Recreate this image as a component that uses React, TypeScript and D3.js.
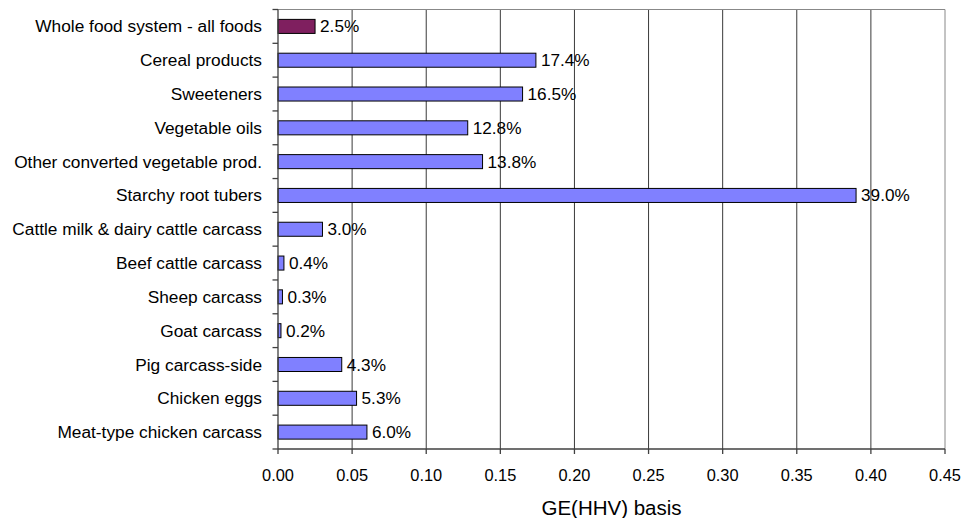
import * as d3 from "d3";

const categories = [
  "Whole food system - all foods",
  "Cereal products",
  "Sweeteners",
  "Vegetable oils",
  "Other converted vegetable prod.",
  "Starchy root tubers",
  "Cattle milk & dairy cattle carcass",
  "Beef cattle carcass",
  "Sheep carcass",
  "Goat carcass",
  "Pig carcass-side",
  "Chicken eggs",
  "Meat-type chicken carcass",
];
const values = [0.025, 0.174, 0.165, 0.128, 0.138, 0.39, 0.03, 0.004, 0.003, 0.002, 0.043, 0.053, 0.06];
const valueLabels = ["2.5%", "17.4%", "16.5%", "12.8%", "13.8%", "39.0%", "3.0%", "0.4%", "0.3%", "0.2%", "4.3%", "5.3%", "6.0%"];
const xTicks = [0, 0.05, 0.1, 0.15, 0.2, 0.25, 0.3, 0.35, 0.4, 0.45];

const W = 964;
const H = 518;
const margin = { top: 9.5, right: 19, bottom: 69, left: 278 };
const FONT = "'Liberation Sans', Arial, sans-serif";

export default function App() {
  const x = d3.scaleLinear().domain([0, 0.45]).range([margin.left, W - margin.right]);
  const y = d3
    .scaleBand<string>()
    .domain(categories)
    .range([margin.top, H - margin.bottom])
    .paddingInner(0.585)
    .paddingOuter(0.2925);
  const step = y.step();
  const y0 = margin.top;
  const y1 = H - margin.bottom;
  const x0 = x(0);
  const x1 = x(0.45);

  return (
    <svg width={W} height={H} style={{ position: "absolute", left: 0, top: 0, background: "#fff" }}>
      {/* gridlines */}
      {xTicks.slice(1, -1).map((t) => (
        <line key={"g" + t} x1={x(t)} x2={x(t)} y1={y0} y2={y1} stroke="#3a3a3a" strokeWidth={1} />
      ))}
      {/* plot border top/right */}
      <line x1={x0} x2={x1} y1={y0} y2={y0} stroke="#888" />
      <line x1={x1} x2={x1} y1={y0} y2={y1} stroke="#888" />

      {/* bars */}
      {categories.map((c, i) => (
        <g key={c}>
          <rect
            x={x(0)}
            y={y(c)}
            width={x(values[i]) - x(0)}
            height={y.bandwidth()}
            fill={i === 0 ? "#7f1f5f" : "#8080ff"}
            stroke="#000"
            strokeWidth={1}
          />
          <text
            x={x(values[i]) + 5}
            y={(y(c) ?? 0) + y.bandwidth() / 2}
            dy="0.35em"
            fontSize={17.2}
            fontFamily={FONT}
            fill="#000"
          >
            {valueLabels[i]}
          </text>
          <text
            x={262}
            y={(y(c) ?? 0) + y.bandwidth() / 2}
            dy="0.35em"
            textAnchor="end"
            fontSize={17.3}
            fontFamily={FONT}
            fill="#000"
          >
            {c}
          </text>
        </g>
      ))}

      {/* y axis */}
      <line x1={x0} x2={x0} y1={y0} y2={y1} stroke="#404040" strokeWidth={1.3} />
      {d3.range(categories.length + 1).map((k) => (
        <line key={"yt" + k} x1={x0 - 5.5} x2={x0} y1={y0 + k * step} y2={y0 + k * step} stroke="#404040" strokeWidth={1.3} />
      ))}

      {/* x axis */}
      <line x1={x0} x2={x1} y1={y1} y2={y1} stroke="#404040" strokeWidth={1.3} />
      {xTicks.map((t) => (
        <g key={"xt" + t}>
          <line x1={x(t)} x2={x(t)} y1={y1} y2={y1 + 5} stroke="#404040" strokeWidth={1.3} />
          <text x={x(t)} y={481} textAnchor="middle" fontSize={16.4} fontFamily={FONT} fill="#000">
            {d3.format(".2f")(t)}
          </text>
        </g>
      ))}
      <text x={(x0 + x1) / 2} y={515} textAnchor="middle" fontSize={20.5} fontFamily={FONT} fill="#000">
        GE(HHV) basis
      </text>
    </svg>
  );
}
